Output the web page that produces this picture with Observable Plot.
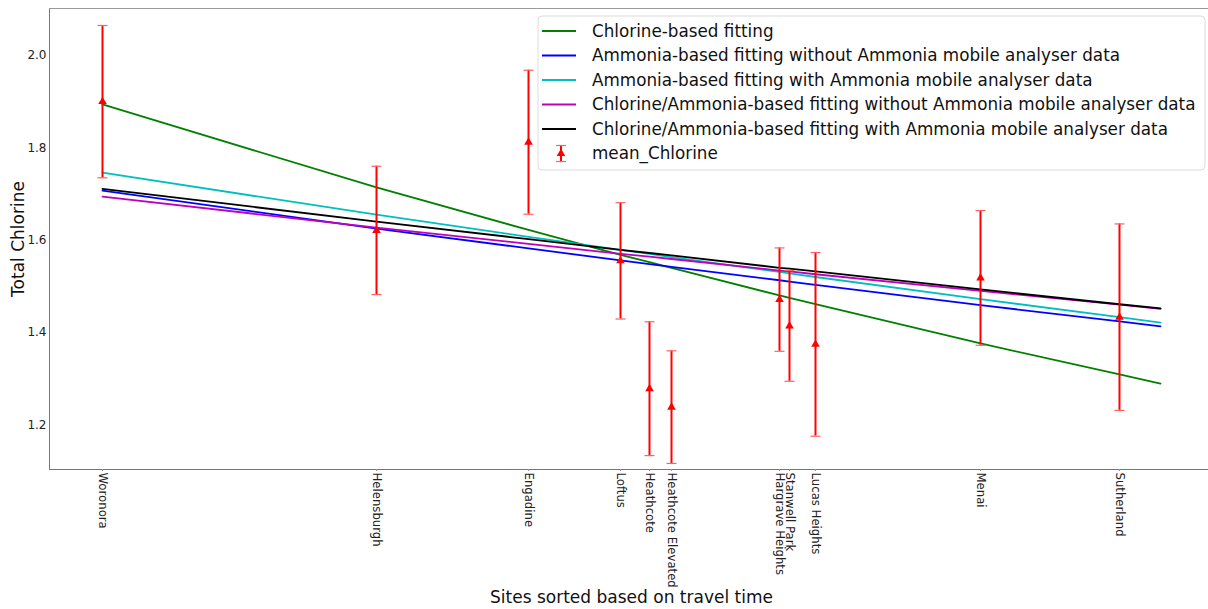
<!DOCTYPE html>
<html><head><meta charset="utf-8">
<script src="https://cdn.jsdelivr.net/npm/d3@7"></script>
<script src="https://cdn.jsdelivr.net/npm/@observablehq/plot@0.6"></script>
<style>body{margin:0;background:#fff;font-family:"DejaVu Sans",sans-serif}</style>
</head><body><div id="chart"></div>
<script>
const sites = ["Woronora","Helensburgh","Engadine","Loftus","Heathcote","Heathcote Elevated","Hargrave Heights","Stanwell Park","Lucas Heights","Menai","Sutherland"];
const travelTime = [2.65,16.35,23.95,28.55,30.0,31.1,36.5,37.0,38.3,46.55,53.5];
const meanChlorine = [1.900,1.621,1.812,1.555,1.278,1.238,1.471,1.414,1.374,1.518,1.433];
const errChlorine = [0.165,0.139,0.156,0.126,0.145,0.122,0.112,0.120,0.199,0.146,0.202];
const fitTime = [2.65,16.35,23.95,28.55,30.0,31.1,36.5,37.0,38.3,46.55,53.5,55.55];
const fitChlorine = [1.894,1.714,1.622,1.568,1.552,1.540,1.480,1.475,1.461,1.376,1.309,1.289];
const fitAmmoniaNoMobile = [1.707,1.625,1.582,1.556,1.548,1.542,1.513,1.510,1.503,1.459,1.424,1.413];
const fitAmmoniaMobile = [1.746,1.655,1.607,1.579,1.570,1.563,1.531,1.528,1.520,1.472,1.433,1.421];
const fitChlAmmNoMobile = [1.694,1.627,1.592,1.570,1.564,1.559,1.534,1.532,1.526,1.490,1.460,1.451];
const fitChlAmmMobile = [1.711,1.640,1.602,1.579,1.572,1.567,1.540,1.538,1.532,1.493,1.461,1.452];
const seriesNames = ["Chlorine-based fitting","Ammonia-based fitting without Ammonia mobile analyser data","Ammonia-based fitting with Ammonia mobile analyser data","Chlorine/Ammonia-based fitting without Ammonia mobile analyser data","Chlorine/Ammonia-based fitting with Ammonia mobile analyser data"];
const seriesColors = ["#008000","#0000ff","#00bfbf","#bf00bf","#000000"];
const errorName = "mean_Chlorine";
const yTicks = [1.2,1.4,1.6,1.8,2.0];
const xDomain = [0, 57.95];
const yDomain = [1.1029, 2.1018];

const seriesValues = [fitChlorine, fitAmmoniaNoMobile, fitAmmoniaMobile, fitChlAmmNoMobile, fitChlAmmMobile];
const fitRows = seriesNames.flatMap((s, i) => fitTime.map((t, j) => ({s, t, v: seriesValues[i][j]})));
const obs = sites.map((name, i) => ({name, t: travelTime[i], m: meanChlorine[i], e: errChlorine[i]}));

const capSymbol = {draw(ctx, size) { const r = Math.sqrt(size / Math.PI); ctx.moveTo(-r, 0); ctx.lineTo(r, 0); }};

const chart = Plot.plot({
  width: 1208, height: 609,
  marginLeft: 49, marginRight: 0, marginTop: 8, marginBottom: 140,
  style: {fontFamily: "DejaVu Sans, sans-serif", fontSize: "12px", background: "white", color: "#222"},
  x: {domain: xDomain},
  y: {domain: yDomain},
  color: {domain: seriesNames, range: seriesColors},
  marks: [
    Plot.line(fitRows, {x: "t", y: "v", z: "s", stroke: "s", strokeWidth: 1.8}),
    Plot.ruleX(obs, {x: "t", y1: d => d.m - d.e, y2: d => d.m + d.e, stroke: "#ff0000", strokeWidth: 2}),
    Plot.dot(obs, {x: "t", y: d => d.m + d.e, symbol: capSymbol, r: 5, stroke: "#ff6060", strokeWidth: 1.2}),
    Plot.dot(obs, {x: "t", y: d => d.m - d.e, symbol: capSymbol, r: 5, stroke: "#ff6060", strokeWidth: 1.2}),
    Plot.dot(obs, {x: "t", y: "m", symbol: "triangle", r: 3.2, fill: "#ff0000", stroke: "none"}),
    Plot.ruleX([xDomain[0]], {stroke: "#777", strokeWidth: 1}),
    Plot.ruleY([yDomain[0]], {stroke: "#777", strokeWidth: 1}),
    Plot.ruleY([yDomain[1]], {stroke: "#999", strokeWidth: 1}),
    Plot.axisY({ticks: yTicks, tickSize: 0, tickPadding: 3, tickFormat: d3.format(".1f"), label: null, fontSize: 12}),
    Plot.axisX({ticks: travelTime, tickFormat: t => sites[travelTime.indexOf(t)], tickRotate: 90, tickSize: 2, tickPadding: 1, label: null, fontSize: 11.7, stroke: "#999"}),
    Plot.text(["Total Chlorine"], {frameAnchor: "left", rotate: -90, dx: -31, textAnchor: "middle", fontSize: 17, text: d => d, fill: "#111"}),
    Plot.text(["Sites sorted based on travel time"], {frameAnchor: "bottom", dy: 133, dx: 2.5, fontSize: 17, text: d => d, fill: "#111"})
  ]
});
document.getElementById("chart").appendChild(chart);

// legend inside the plot area
const svg = d3.select(chart);
const lg = svg.append("g").attr("font-family", "DejaVu Sans, sans-serif").attr("font-size", 16.8).attr("text-anchor", "start");
lg.append("rect").attr("x", 538).attr("y", 16).attr("width", 667).attr("height", 154).attr("rx", 4)
  .attr("fill", "white").attr("fill-opacity", 0.85).attr("stroke", "#dcdcdc");
seriesNames.forEach((name, i) => {
  const y = 31 + i * 24.5;
  lg.append("line").attr("x1", 542).attr("x2", 576).attr("y1", y).attr("y2", y).attr("stroke", seriesColors[i]).attr("stroke-width", 1.8);
  lg.append("text").attr("x", 592).attr("y", y).attr("dy", "0.35em").attr("fill", "#111").text(name);
});
{
  const y = 31 + seriesNames.length * 24.5;
  lg.append("line").attr("x1", 561).attr("x2", 561).attr("y1", y - 8).attr("y2", y + 8).attr("stroke", "#ff0000").attr("stroke-width", 2);
  lg.append("line").attr("x1", 556).attr("x2", 566).attr("y1", y - 8).attr("y2", y - 8).attr("stroke", "#ff6060").attr("stroke-width", 1.2);
  lg.append("line").attr("x1", 556).attr("x2", 566).attr("y1", y + 8).attr("y2", y + 8).attr("stroke", "#ff6060").attr("stroke-width", 1.2);
  lg.append("path").attr("d", d3.symbol(d3.symbolTriangle, 32)()).attr("transform", `translate(561,${y})`).attr("fill", "#ff0000");
  lg.append("text").attr("x", 592).attr("y", y).attr("dy", "0.35em").attr("fill", "#111").text(errorName);
}
</script></body></html>
